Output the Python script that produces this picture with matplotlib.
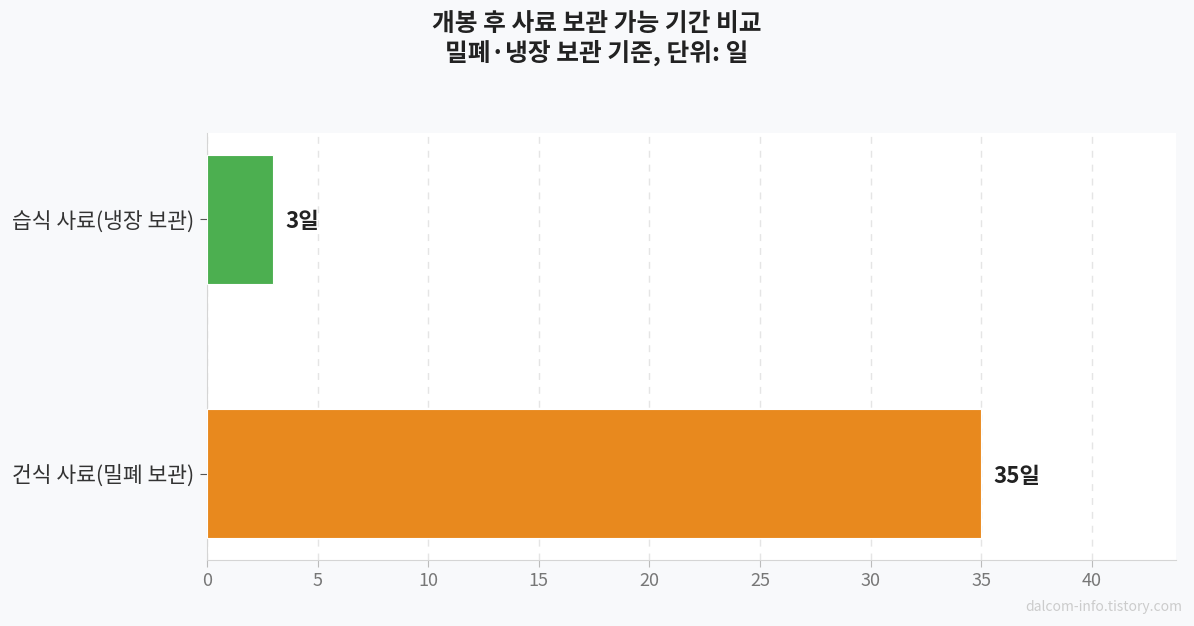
import matplotlib
matplotlib.use("Agg")
import matplotlib.pyplot as plt

plt.rcParams['font.family'] = ['Noto Sans CJK KR', 'DejaVu Sans']

categories = ["건식 사료(밀폐 보관)", "습식 사료(냉장 보관)"]
values = [35, 3]
colors = ["#E8891E", "#4CAF50"]
value_labels = ["35일", "3일"]
title = "개봉 후 사료 보관 가능 기간 비교\n밀폐·냉장 보관 기준, 단위: 일"

fig = plt.figure(figsize=(11.94, 6.26), dpi=100)
fig.patch.set_facecolor("#F8F9FB")
ax = fig.add_axes([207/1194, 1-560/626, (1176-207)/1194, (560-133)/626])
ax.set_facecolor("white")

y = list(range(len(categories)))
ax.barh(y, values, height=0.51, color=colors, edgecolor="white", linewidth=0.8, zorder=3)
for yi, v, lab in zip(y, values, value_labels):
    ax.text(v + 0.55, yi - 0.01, lab, va="center", ha="left", fontsize=16,
            fontweight="bold", color="#222222", zorder=4)

ax.set_xlim(0, 43.8)
ax.set_ylim(-0.34, 1.34)
ax.set_yticks(y)
ax.set_yticklabels(categories, fontsize=15.5, color="#333333")
ax.set_xticks(range(0, 45, 5))
ax.tick_params(axis="x", labelsize=13, colors="#777777", length=5, color="#BBBBBB")
ax.tick_params(axis="y", length=5, color="#555555", pad=4)
for lab in ax.get_xticklabels():
    lab.set_color("#777777")
ax.grid(axis="x", linestyle=(0, (5, 5)), color="#E5E5E5", linewidth=1, zorder=0)
ax.set_axisbelow(True)
for s in ["top", "right"]:
    ax.spines[s].set_visible(False)
for s in ["left", "bottom"]:
    ax.spines[s].set_color("#D5D5D5")

fig.text(0.5, 1-39/626, title, ha="center", va="center", fontsize=17.8,
         fontweight="bold", color="#222222", linespacing=1.17)
fig.text(1182/1194, 1-607/626, "dalcom-info.tistory.com", ha="right", va="center",
         fontsize=10, color="#CCCCCC")

fig.savefig("out.png", dpi=100, facecolor=fig.get_facecolor())
